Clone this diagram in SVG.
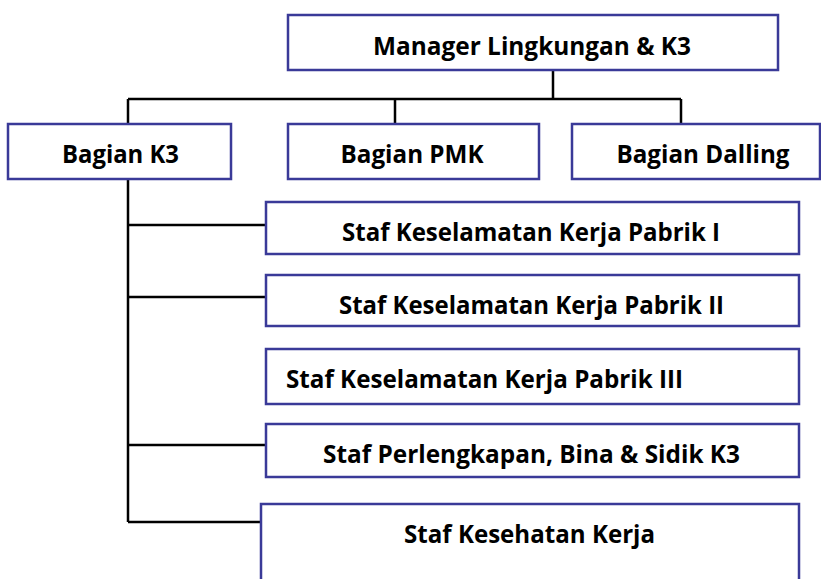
<svg xmlns="http://www.w3.org/2000/svg" width="821" height="579" viewBox="0 0 821 579">
  <style>
    .box { fill: #ffffff; stroke: #3a3a98; stroke-width: 2.5; }
    .lbl { font-family: "Open Sans", "Liberation Sans", sans-serif; font-weight: bold; font-size: 25px; fill: #000000; }
    .conn { fill: none; stroke: #000000; stroke-width: 2.5; }
  </style>
  <rect width="821" height="579" fill="#ffffff"/>
  <g id="connectors">
    <path class="conn" d="M553 70 V99 M128 99 H681 M128 99 V124 M395 99 V124 M681 99 V124"/>
    <path class="conn" d="M128 179 V522 M128 225 H266 M128 297 H266 M128 445 H266 M128 522 H261"/>
  </g>
  <g id="manager">
    <rect class="box" x="288" y="15" width="490" height="55"/>
    <text class="lbl" x="532" y="55" text-anchor="middle" textLength="318" lengthAdjust="spacingAndGlyphs">Manager Lingkungan &amp; K3</text>
  </g>
  <g id="bagian-k3">
    <rect class="box" x="8" y="124" width="223" height="55"/>
    <text class="lbl" x="120.5" y="163" text-anchor="middle" textLength="117" lengthAdjust="spacingAndGlyphs">Bagian K3</text>
  </g>
  <g id="bagian-pmk">
    <rect class="box" x="288" y="124" width="251" height="55"/>
    <text class="lbl" x="412" y="163" text-anchor="middle" textLength="143" lengthAdjust="spacingAndGlyphs">Bagian PMK</text>
  </g>
  <g id="bagian-dalling">
    <rect class="box" x="572" y="124" width="248" height="55"/>
    <text class="lbl" x="703" y="163" text-anchor="middle" textLength="173" lengthAdjust="spacingAndGlyphs">Bagian Dalling</text>
  </g>
  <g id="staf-pabrik-1">
    <rect class="box" x="266" y="202" width="533" height="52"/>
    <text class="lbl" x="531" y="241" text-anchor="middle" textLength="378" lengthAdjust="spacingAndGlyphs">Staf Keselamatan Kerja Pabrik I</text>
  </g>
  <g id="staf-pabrik-2">
    <rect class="box" x="266" y="275" width="533" height="51"/>
    <text class="lbl" x="531.5" y="314" text-anchor="middle" textLength="385" lengthAdjust="spacingAndGlyphs">Staf Keselamatan Kerja Pabrik II</text>
  </g>
  <g id="staf-pabrik-3">
    <rect class="box" x="266" y="349" width="533" height="55"/>
    <text class="lbl" x="286" y="388" textLength="397" lengthAdjust="spacingAndGlyphs">Staf Keselamatan Kerja Pabrik III</text>
  </g>
  <g id="staf-perlengkapan">
    <rect class="box" x="266" y="424" width="533" height="53"/>
    <text class="lbl" x="531.5" y="463" text-anchor="middle" textLength="417" lengthAdjust="spacingAndGlyphs">Staf Perlengkapan, Bina &amp; Sidik K3</text>
  </g>
  <g id="staf-kesehatan">
    <rect class="box" x="261" y="504" width="538" height="90"/>
    <text class="lbl" x="529.5" y="543" text-anchor="middle" textLength="251" lengthAdjust="spacingAndGlyphs">Staf Kesehatan Kerja</text>
  </g>
</svg>
